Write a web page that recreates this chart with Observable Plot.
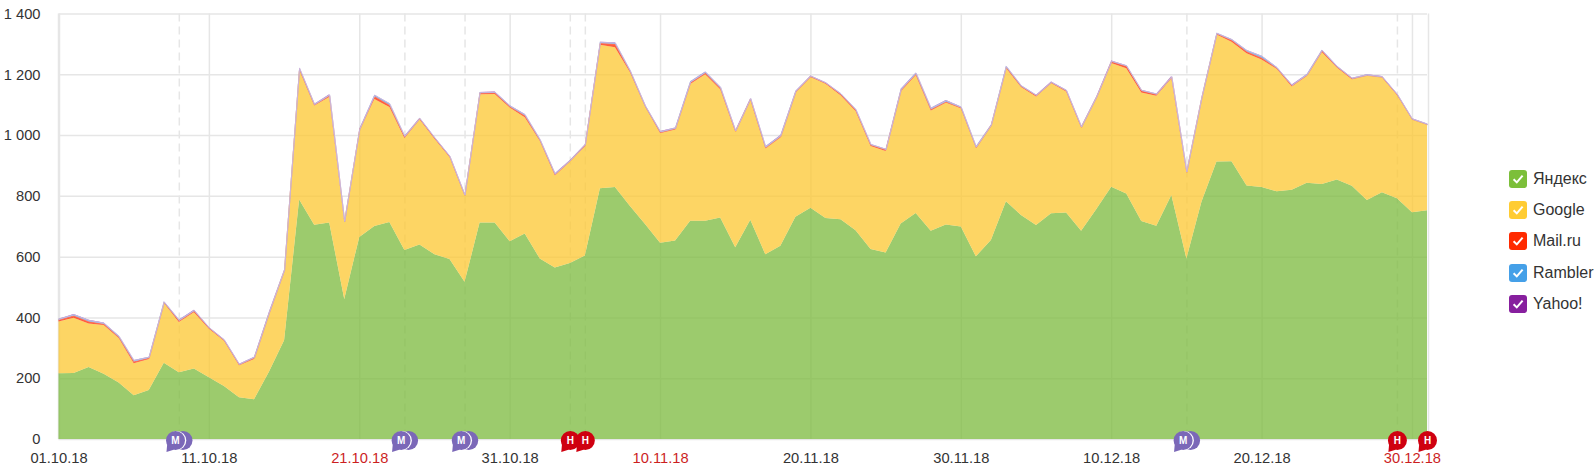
<!DOCTYPE html>
<html lang="ru">
<head>
<meta charset="utf-8">
<script src="https://cdn.jsdelivr.net/npm/d3@7"></script>
<script src="https://cdn.jsdelivr.net/npm/@observablehq/plot@0.6"></script>
<style>
html,body{margin:0;padding:0;background:#fff}
#wrap{position:relative;width:1596px;height:470px;overflow:hidden;font-family:"Liberation Sans",Arial,sans-serif}
#legend{position:absolute;left:1509px;top:169.5px}
.item{position:absolute;left:0;width:87px;height:18px;white-space:nowrap;font-size:16px;line-height:18px;color:#333}
.box{position:absolute;left:0;top:0;width:18px;height:18px;border-radius:3px}
.box svg{display:block}
.lab{position:absolute;left:24px;top:0}
</style>
</head>
<body>
<div id="wrap"><div id="chart"></div><div id="legend"></div></div>
<script>
const startDay = "2018-10-01";
const endDay = "2018-12-31";
const seriesNames = ["Яндекс","Google","Mail.ru","Rambler","Yahoo!"];
const seriesColors = ["#7dbb3f","#fcc833","#ff2a00","#45a0e8","#871f9e"];
const edgeColors = {"Mail.ru": "#ff7a66", "Rambler": "#a8c8ee", "Yahoo!": "#d3b3dd"};

const yandex = [216,217,237,215,186,144,161,251,220,232,203,174,137,131,222,325,788,705,712,461,665,701,714,622,640,608,592,517,712,712,651,676,594,564,579,604,825,829,767,707,646,653,718,718,729,631,721,608,636,731,761,727,723,687,625,614,709,744,685,706,699,601,655,782,737,704,743,745,685,756,830,808,717,702,803,594,781,913,914,834,829,815,820,843,839,854,833,786,812,792,746,753];
const google = [171,182,143,160,146,105,102,197,165,185,160,149,106,132,192,229,428,392,413,253,351,418,378,368,412,380,336,284,422,423,440,383,387,304,334,358,472,460,440,387,361,365,450,482,422,380,395,349,357,410,430,442,408,392,339,334,435,454,396,401,389,357,376,439,421,423,428,398,340,367,407,412,423,427,384,283,340,418,393,435,420,403,340,352,434,368,351,410,378,340,306,282];
const mail = [6,7,7,4,4,6,4,2,5,5,3,3,3,5,3,2,3,4,6,2,3,9,7,5,3,3,2,2,5,5,3,5,3,3,3,6,6,11,3,2,3,4,5,5,4,3,4,2,3,2,3,3,4,4,4,5,4,4,4,3,3,2,2,3,3,4,3,4,2,2,6,8,7,6,5,2,2,3,6,6,5,3,4,3,5,3,3,2,2,2,1,1];
const rambler = [2,4,4,3,3,4,3,2,2,2,1,1,1,2,2,1,2,1,2,1,1,4,5,2,1,1,1,1,2,2,3,4,2,2,1,1,3,4,2,1,2,2,3,3,3,1,1,3,3,2,1,1,2,2,2,1,3,3,4,4,2,2,1,3,2,1,1,1,1,1,1,1,1,1,1,1,1,2,2,4,6,2,1,2,2,2,1,1,1,1,1,1];
const yahoo = [1,1,1,1,1,1,1,1,1,1,1,1,1,1,1,1,1,1,1,1,1,1,1,1,1,1,1,1,1,1,1,1,1,1,1,1,1,1,1,1,1,1,1,1,1,1,1,1,1,1,1,1,1,1,1,1,1,1,1,1,1,1,1,1,1,1,1,1,1,1,1,1,1,1,1,1,1,1,1,1,1,1,1,1,1,1,1,1,1,1,1,1];

const yTicks = [0,200,400,600,800,1000,1200,1400];
const blackLabels = ["2018-10-01","2018-10-11","2018-10-31","2018-11-20","2018-11-30","2018-12-10","2018-12-20"];
const redLabels = ["2018-10-21","2018-11-10","2018-12-30"];
const gridDays = ["2018-10-11","2018-10-21","2018-10-31","2018-11-10","2018-11-20","2018-11-30","2018-12-10","2018-12-20","2018-12-30"];
const meetDays = ["2018-10-09","2018-10-24","2018-10-28","2018-12-15"];
const holidayDays = ["2018-11-04","2018-11-05","2018-12-29","2018-12-31"];

const D = s => new Date(s + "T00:00:00Z");
const days = d3.utcDays(D(startDay), d3.utcDay.offset(D(endDay), 1));
const columns = [yandex, google, mail, rambler, yahoo];
const table = seriesNames.flatMap((name, k) => days.map((date, i) => ({date, series: name, value: columns[k][i]})));
const fmtDate = d3.utcFormat("%d.%m.%y");
const fmtY = d => d3.format(",")(d).replace(/,/g, " ");
const TEXT = "#333333", RED = "#cc1f1f", GRID = "#e6e6e6", PURPLE = "#7b68b8", CRIMSON = "#cf0010";

// speech-bubble symbol: a disc with a tail to the lower left
const bubble = {draw(ctx, size) {
  const r = Math.sqrt(size / Math.PI);
  ctx.moveTo(r, 0);
  ctx.arc(0, 0, r, 0, 2 * Math.PI);
  ctx.closePath();
  ctx.moveTo(r * 0.05, r * 0.9);
  ctx.lineTo(-r * 0.95, r * 1.2);
  ctx.lineTo(-r * 0.85, r * 0.1);
  ctx.closePath();
}};
const disc = {draw(ctx, size) {
  const r = Math.sqrt(size / Math.PI);
  ctx.moveTo(r, 0);
  ctx.arc(0, 0, r, 0, 2 * Math.PI);
  ctx.closePath();
}};
const meet = meetDays.map(D), hol = holidayDays.map(D);

const chart = Plot.plot({
  width: 1596, height: 470,
  marginLeft: 58.5, marginRight: 169, marginTop: 13.5, marginBottom: 31,
  style: {fontFamily: '"Liberation Sans",Arial,sans-serif', background: "#fff", overflow: "visible"},
  x: {type: "utc", domain: [D(startDay), D(endDay)], label: null},
  y: {domain: [0, 1400], label: null},
  color: {domain: seriesNames, range: seriesColors},
  marks: [
    Plot.ruleY(yTicks, {stroke: GRID, strokeWidth: 1.5}),
    Plot.ruleX(gridDays.map(D), {stroke: GRID, strokeWidth: 1.5}),
    Plot.ruleX([D(startDay)], {stroke: GRID, strokeWidth: 2.5}),
    Plot.ruleX([D(endDay)], {stroke: GRID, strokeWidth: 1.5, dx: 1}),
    Plot.ruleX([...meet, ...hol.slice(0, 3)], {stroke: GRID, strokeWidth: 1.5, strokeDasharray: "8,5"}),
    Plot.areaY(table, {x: "date", y: "value", z: "series", fill: "series", fillOpacity: 0.76}),
    Plot.lineY(table, Plot.stackY2({x: "date", y: "value", z: "series",
      stroke: d => edgeColors[d.series] ?? "none",
      strokeWidth: 0.7})),
    Plot.axisY(yTicks, {tickSize: 0, tickPadding: 18.5, tickFormat: fmtY, fontSize: 14.7, fill: TEXT, label: null}),
    Plot.axisX(blackLabels.map(D), {tickSize: 0, tickPadding: 13, tickFormat: fmtDate, fontSize: 14.7, fill: TEXT, label: null}),
    Plot.axisX(redLabels.map(D), {tickSize: 0, tickPadding: 13, tickFormat: fmtDate, fontSize: 14.7, fill: RED, label: null}),
    Plot.dot(meet, {x: d => d, y: 0, dx: 3.7, dy: 1, r: 9.5, symbol: disc, fill: PURPLE, stroke: "none"}),
    Plot.dot(meet, {x: d => d, y: 0, dx: -2.6, dy: 1, r: 9.6, symbol: disc, fill: "#fff", stroke: "none"}),
    Plot.dot(meet, {x: d => d, y: 0, dx: -3.8, dy: 1, r: 9.5, symbol: bubble, fill: PURPLE, stroke: "none"}),
    Plot.text(meet, {x: d => d, y: 0, dx: -3.8, dy: 1, text: () => "М", fill: "#fff", fontSize: 10, fontWeight: "bold"}),
    Plot.dot(hol, {x: d => d, y: 0, dy: 1, r: 9.5, symbol: bubble, fill: CRIMSON, stroke: "none"}),
    Plot.text(hol, {x: d => d, y: 0, dy: 1, text: () => "Н", fill: "#fff", fontSize: 10, fontWeight: "bold"})
  ]
});
document.getElementById("chart").appendChild(chart);

const legend = document.getElementById("legend");
const legendTops = [0, 31.4, 62.8, 94.2, 125.6];
seriesNames.forEach((name, i) => {
  const item = document.createElement("div");
  item.className = "item";
  item.style.top = legendTops[i] + "px";
  item.innerHTML = `<span class="box" style="background:${["#7cbf3a","#ffcc33","#ff2a00","#45a0e8","#871f9e"][i]}"><svg width="18" height="18" viewBox="0 0 18 18"><path d="M4.6 9.2 L7.8 12.4 L13.6 5.6" fill="none" stroke="#fff" stroke-width="2"/></svg></span><span class="lab">${name}</span>`;
  legend.appendChild(item);
});
</script>
</body>
</html>
